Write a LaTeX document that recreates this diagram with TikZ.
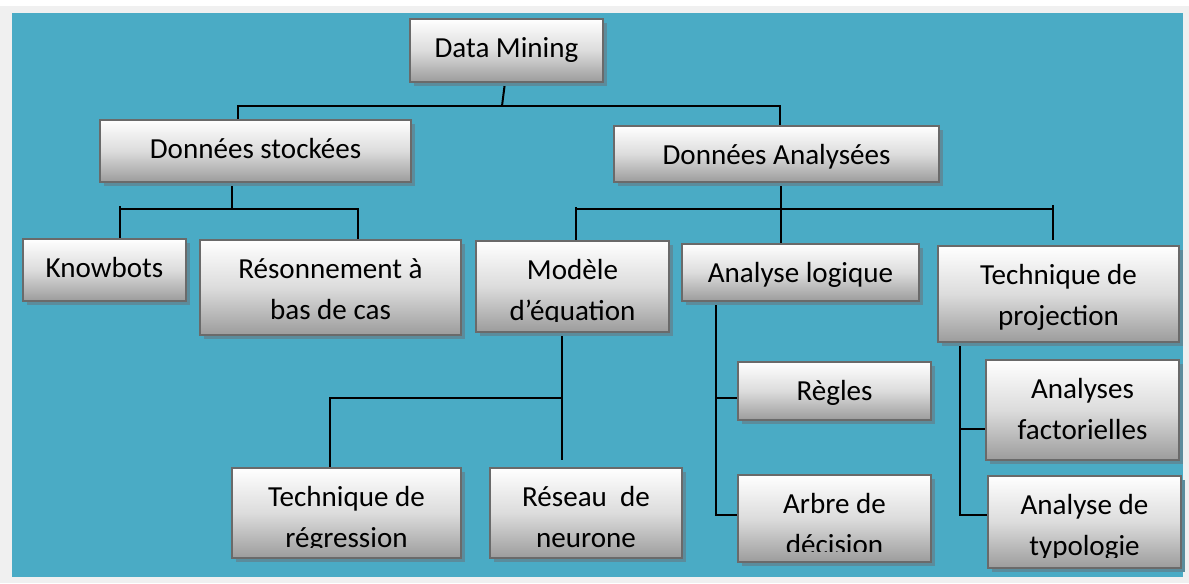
\documentclass[tikz,border=0pt]{standalone}
\usepackage{fontspec}
\setmainfont{Carlito}
\usetikzlibrary{calc}

\definecolor{pagegray}{HTML}{F0F0F0}
\definecolor{panel}{HTML}{4AABC5}
\definecolor{boxedge}{HTML}{6A6A6A}
\definecolor{boxshadow}{HTML}{5B8C9C}
\definecolor{shadebottom}{HTML}{9C9C9C}
\definecolor{shademid}{HTML}{DCDCDC}

\pgfdeclarelayer{back}
\pgfdeclarelayer{wires}
\pgfsetlayers{back,wires,main}

\tikzset{
  box/.style={rectangle, draw=boxedge, line width=1.9pt, inner sep=0pt, outer sep=0pt,
    anchor=north west, top color=white, bottom color=shadebottom, middle color=shademid},
  boxtext/.style={inner sep=0pt, anchor=base, font=\fontsize{21.8pt}{30.75pt}\selectfont},
  link/.style={draw=black, line width=1.5pt},
}

% centred lines, baseline of the node = baseline of the first line
\newcommand\lines[1]{\begin{tabular}[t]{@{}c@{}}#1\end{tabular}}

% \tbox{name}{left}{top}{right}{bottom}{text}: shaded box with drop shadow,
% text clipped a little above the lower edge
\newcommand\tbox[6]{%
  \fill[boxshadow] (#2+4,#3+4) rectangle (#4+4,#5+4);
  \node[box, minimum width={(#4-#2)*0.75pt}, minimum height={(#5-#3)*0.75pt},
    path picture={
      \clip ([yshift=7.9pt]path picture bounding box.south west)
        rectangle (path picture bounding box.north east);
      \node[boxtext] (#1-text) at ([yshift=-28.5pt]path picture bounding box.north) {\lines{#6}};
    }] (#1) at (#2,#3) {};
}

\begin{document}
\begin{tikzpicture}[x=0.75pt, y=-0.75pt]
\useasboundingbox (0,0) rectangle (1189,583);

\begin{pgfonlayer}{back}
  \fill[pagegray] (0,0) rectangle (1189,583);
  \fill[white] (0,0) rectangle (1189,6);
  \fill[panel] (12,13) rectangle (1183,577);
\end{pgfonlayer}

% boxes
\tbox{dm}{410}{19}{603}{82}{Data Mining}
\tbox{ds}{100}{120}{411}{182}{Données stockées}
\tbox{da}{614}{126}{939}{182}{Données Analysées}
\tbox{kb}{23}{239}{186}{301}{Knowbots}
\tbox{rs}{200}{240}{461}{335}{Résonnement à\\bas de cas}
\tbox{me}{476}{241}{669}{332}{Modèle\\d’équation}
\tbox{al}{682}{244}{919}{301}{Analyse logique}
\tbox{tp}{938}{246}{1179}{342}{Technique de\\projection}
\tbox{rg}{738}{362}{931}{420}{Règles}
\tbox{af}{986}{360}{1179}{460}{Analyses\\factorielles}
\tbox{ad}{738}{475}{931}{562}{Arbre de\\décision}
\tbox{at}{988}{476}{1181}{568}{Analyse de\\typologie}
\tbox{tr}{232}{468}{461}{558}{Technique de\\régression}
\tbox{rn}{490}{468}{682}{558}{Réseau~~de\\neurone}

% junction points of the tree
\coordinate (j0)  at (502,106);
\coordinate (j0L) at (238,106);
\coordinate (j0R) at (780,106);
\coordinate (j1)  at (232,209);
\coordinate (j1L) at (120,206);
\coordinate (j1R) at (358,209);
\coordinate (j2)  at (781,209);
\coordinate (j2L) at (576,207);
\coordinate (j2R) at (1053,205);
\coordinate (j2E) at (1053,240);
\coordinate (j3)  at (562,398);
\coordinate (j3E) at (562,460);
\coordinate (j3L) at (330,398);
\coordinate (j4)  at (716,515);
\coordinate (j4a) at (716,398);
\coordinate (j5)  at (960,515);
\coordinate (j5a) at (960,429);

\begin{pgfonlayer}{wires}
  % Data Mining
  \draw[link] ([xshift=-1.1pt]dm.south) -- (j0);
  \draw[link] (j0L |- ds.north) -- (j0L) -- (j0R) -- (j0R |- da.north);
  % Données stockées
  \draw[link] (j1 |- ds.south) -- (j1);
  \draw[link] (j1L |- kb.north) -- (j1L);
  \draw[link] (j1L |- j1) -- (j1R) -- (j1R |- rs.north);
  % Données Analysées
  \draw[link] (j2 |- da.south) -- (j2 |- al.north);
  \draw[link] (j2L |- me.north) -- (j2L);
  \draw[link] (j2L |- j2) -- (j2R |- j2);
  \draw[link] (j2R) -- (j2E);
  % Modèle d'équation
  \draw[link] (j3 |- me.south) -- (j3E);
  \draw[link] (j3) -- (j3L) -- (j3L |- tr.north);
  % Analyse logique
  \draw[link] (j4 |- al.south) -- (j4) -- (j4 -| ad.west);
  \draw[link] (j4a) -- (j4a -| rg.west);
  % Technique de projection
  \draw[link] (j5 |- tp.south) -- (j5) -- (j5 -| at.west);
  \draw[link] (j5a) -- (j5a -| af.west);
\end{pgfonlayer}
\end{tikzpicture}
\end{document}
